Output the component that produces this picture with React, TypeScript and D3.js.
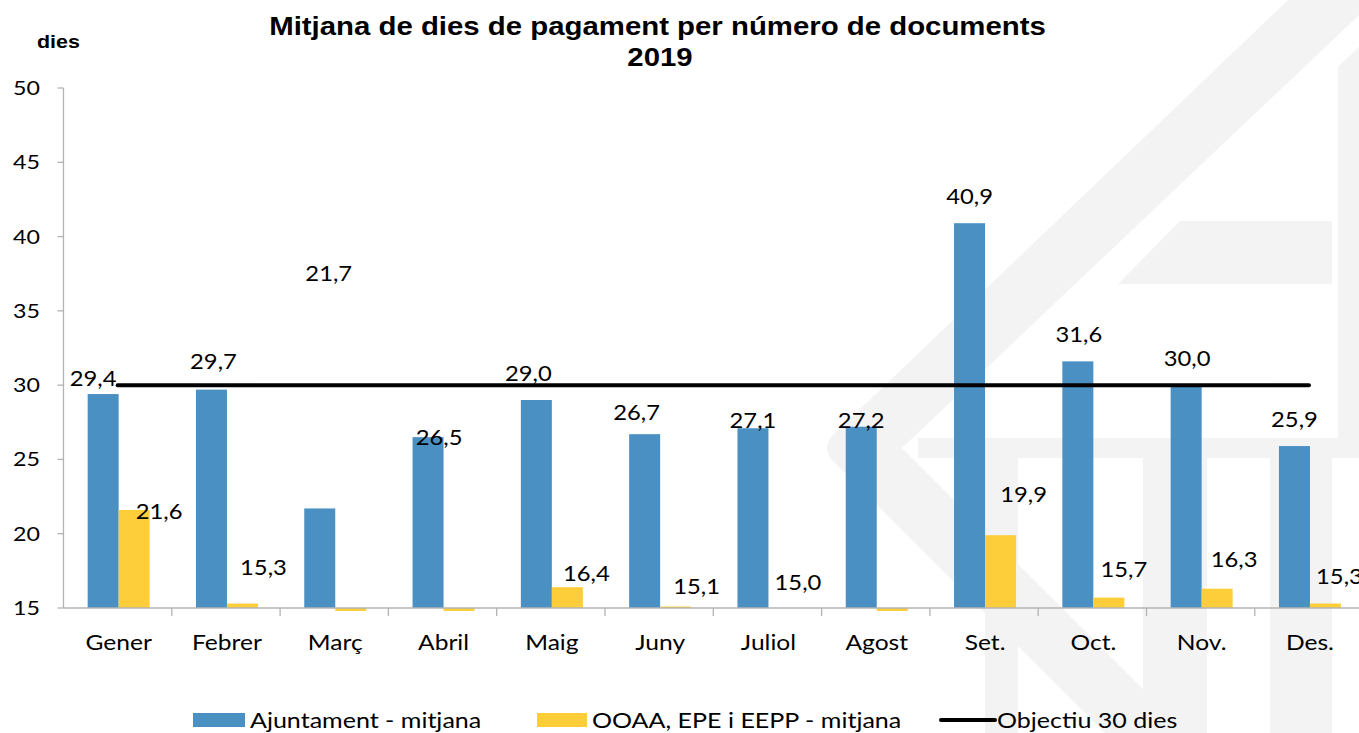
import React from "react";
import * as d3 from "d3";

const categories = ["Gener", "Febrer", "Març", "Abril", "Maig", "Juny", "Juliol", "Agost", "Set.", "Oct.", "Nov.", "Des."];
const ajuntament = [29.4, 29.7, 21.7, 26.5, 29.0, 26.7, 27.1, 27.2, 40.9, 31.6, 30.0, 25.9];
const ooaa = [21.6, 15.3, 14.8, 14.8, 16.4, 15.1, 15.0, 14.8, 19.9, 15.7, 16.3, 15.3];
const ooaaLabelShown = [true, true, false, false, true, true, true, false, true, true, true, true];
const objectiu = 30;
const yTicks = [15, 20, 25, 30, 35, 40, 45, 50];
const seriesNames = ["Ajuntament - mitjana", "OOAA, EPE i EEPP - mitjana", "Objectiu 30 dies"];

// manual label nudges (px) as placed in the original chart
const blueNudge: [number, number][] = [[-10, 11], [2, -1], [9, -208], [11, 27], [-8, 0], [-8, 5], [0, 19], [0, 21], [0, 0], [1, 0], [1, 0], [0, 0]];
const yellowNudge: [number, number][] = [[8, 30], [4, -8], [0, 0], [0, 0], [2, 14], [4, 8], [-3, 2], [0, 0], [6, -13], [-2, 0], [0, -1], [-3, 1]];

const W = 1359;
const H = 733;
const BLUE = "#4a90c3";
const YELLOW = "#fecd3a";
const AXIS = "#b3b3b3";
const WM = "#f3f3f3";
const SX = 1.16;
const LABEL_FONT = "Lato, 'Open Sans', sans-serif";
const TITLE_FONT = "'Liberation Sans', Arial, sans-serif";

function fmt(v: number) {
  return v.toFixed(1).replace(".", ",");
}

function SText(props: {
  x: number; y: number; size: number; anchor?: string; weight?: string | number;
  family?: string; fill?: string; sx?: number; baseline?: string; children: React.ReactNode;
}) {
  const { x, y, size, anchor = "start", weight = "normal", family = LABEL_FONT, fill = "#000", sx = SX, baseline } = props;
  return (
    <text
      transform={`translate(${x},${y}) scale(${sx},1)`}
      fontSize={size}
      fontFamily={family}
      fontWeight={weight}
      textAnchor={anchor}
      dominantBaseline={baseline}
      fill={fill}
    >
      {props.children}
    </text>
  );
}

export default function App() {
  const left = 63.5;
  const step = 108.3;
  const x = d3.scaleBand<string>().domain(categories).range([left, left + step * categories.length]).padding(0);
  const y = d3.scaleLinear().domain([15, 50]).range([608, 88]);
  const barW = 31;
  const sub = d3.scaleBand<string>().domain(["a", "o"]).range([x.bandwidth() / 2 - barW + 1, x.bandwidth() / 2 + barW + 1]).padding(0);
  const base = y(15);

  const bar = (v: number) => {
    const yv = y(v);
    return { y: Math.min(yv, base), h: Math.abs(base - yv) };
  };

  const lineX0 = (x(categories[0]) as number) + x.bandwidth() / 2;
  const lineX1 = (x(categories[categories.length - 1]) as number) + x.bandwidth() / 2;

  return (
    <div style={{ position: "absolute", left: 0, top: 0, width: W, height: H, background: "#fff" }}>
      <svg width={W} height={H} viewBox={`0 0 ${W} ${H}`} style={{ display: "block" }}>
        <rect width={W} height={H} fill="#fff" />
        {/* watermark logo */}
        <g fill={WM}>
          <path d="M1288,0 L1375,0 L902,448 L1187,733 L1105,733 L834,462 Q820,448 834,434 Z" />
          <path d="M1180,221 L1332,221 L1332,284 L1118,284 Z" />
          <path d="M1338,67 L1359,47 L1359,458 L1338,458 Z" />
          <path d="M918,438 L1359,438 L1359,458 L918,458 Z" />
          <path d="M985,458 L1018,458 L1018,733 L985,733 Z" />
          <path d="M1143,458 L1207,458 L1207,733 L1143,733 Z" />
          <path d="M1270,458 L1332,458 L1332,733 L1270,733 Z" />
        </g>

        {/* title */}
        <SText x={657.5} y={35} size={25} weight="bold" family={TITLE_FONT} anchor="middle" sx={1.175}>
          Mitjana de dies de pagament per número de documents
        </SText>
        <SText x={660} y={66} size={25} weight="bold" family={TITLE_FONT} anchor="middle" sx={1.175}>
          2019
        </SText>
        <SText x={37} y={48} size={18.5} weight="bold" family={TITLE_FONT}>
          dies
        </SText>

        {/* bars */}
        {categories.map((c, i) => {
          const bx = x(c) as number;
          const a = bar(ajuntament[i]);
          const o = bar(ooaa[i]);
          return (
            <g key={c}>
              <rect x={bx + (sub("a") as number)} y={a.y} width={sub.bandwidth()} height={a.h} fill={BLUE} />
              <rect x={bx + (sub("o") as number)} y={o.y} width={sub.bandwidth()} height={o.h} fill={YELLOW} />
            </g>
          );
        })}

        {/* y axis */}
        <line x1={left} x2={left} y1={y(50)} y2={base} stroke={AXIS} strokeWidth={1.3} />
        {yTicks.map((t) => (
          <g key={t}>
            <line x1={left - 6} x2={left} y1={y(t)} y2={y(t)} stroke={AXIS} strokeWidth={1.3} />
            <SText x={40} y={y(t) + 7} size={20} anchor="end">
              {String(t)}
            </SText>
          </g>
        ))}

        {/* x axis */}
        <line x1={left} x2={W} y1={base} y2={base} stroke={AXIS} strokeWidth={1.5} />
        {categories.map((c, i) =>
          i === 0 ? null : (
            <line key={"t" + c} x1={x(c) as number} x2={x(c) as number} y1={base} y2={base + 8} stroke={AXIS} strokeWidth={1.3} />
          )
        )}
        {categories.map((c) => (
          <SText key={"l" + c} x={(x(c) as number) + x.bandwidth() / 2 + 1} y={650} size={21.2} anchor="middle">
            {c}
          </SText>
        ))}

        {/* objective line */}
        <line x1={lineX0} x2={lineX1} y1={y(objectiu)} y2={y(objectiu)} stroke="#000" strokeWidth={4} strokeLinecap="round" />

        {/* data labels */}
        {categories.map((c, i) => {
          const bx = x(c) as number;
          const cxA = bx + (sub("a") as number) + sub.bandwidth() / 2;
          const cxO = bx + (sub("o") as number) + sub.bandwidth() / 2;
          const ya = y(ajuntament[i]);
          const yo = y(Math.max(ooaa[i], 15));
          return (
            <g key={"d" + c}>
              <SText x={cxA + blueNudge[i][0]} y={ya - 27 + blueNudge[i][1] + 7.5} size={20.5} anchor="middle">
                {fmt(ajuntament[i])}
              </SText>
              {ooaaLabelShown[i] && (
                <SText x={cxO + 17 + yellowNudge[i][0]} y={yo - 28 + yellowNudge[i][1] + 7.5} size={20.5} anchor="middle">
                  {fmt(ooaa[i])}
                </SText>
              )}
            </g>
          );
        })}

        {/* legend */}
        <rect x={193} y={713} width={52} height={14} fill={BLUE} />
        <SText x={250} y={728} size={21.6}>{seriesNames[0]}</SText>
        <rect x={537} y={713} width={50} height={14} fill={YELLOW} />
        <SText x={592} y={728} size={21.6}>{seriesNames[1]}</SText>
        <line x1={941} x2={995} y1={720} y2={720} stroke="#000" strokeWidth={4} strokeLinecap="round" />
        <SText x={997} y={728} size={21.6}>{seriesNames[2]}</SText>
      </svg>
    </div>
  );
}
